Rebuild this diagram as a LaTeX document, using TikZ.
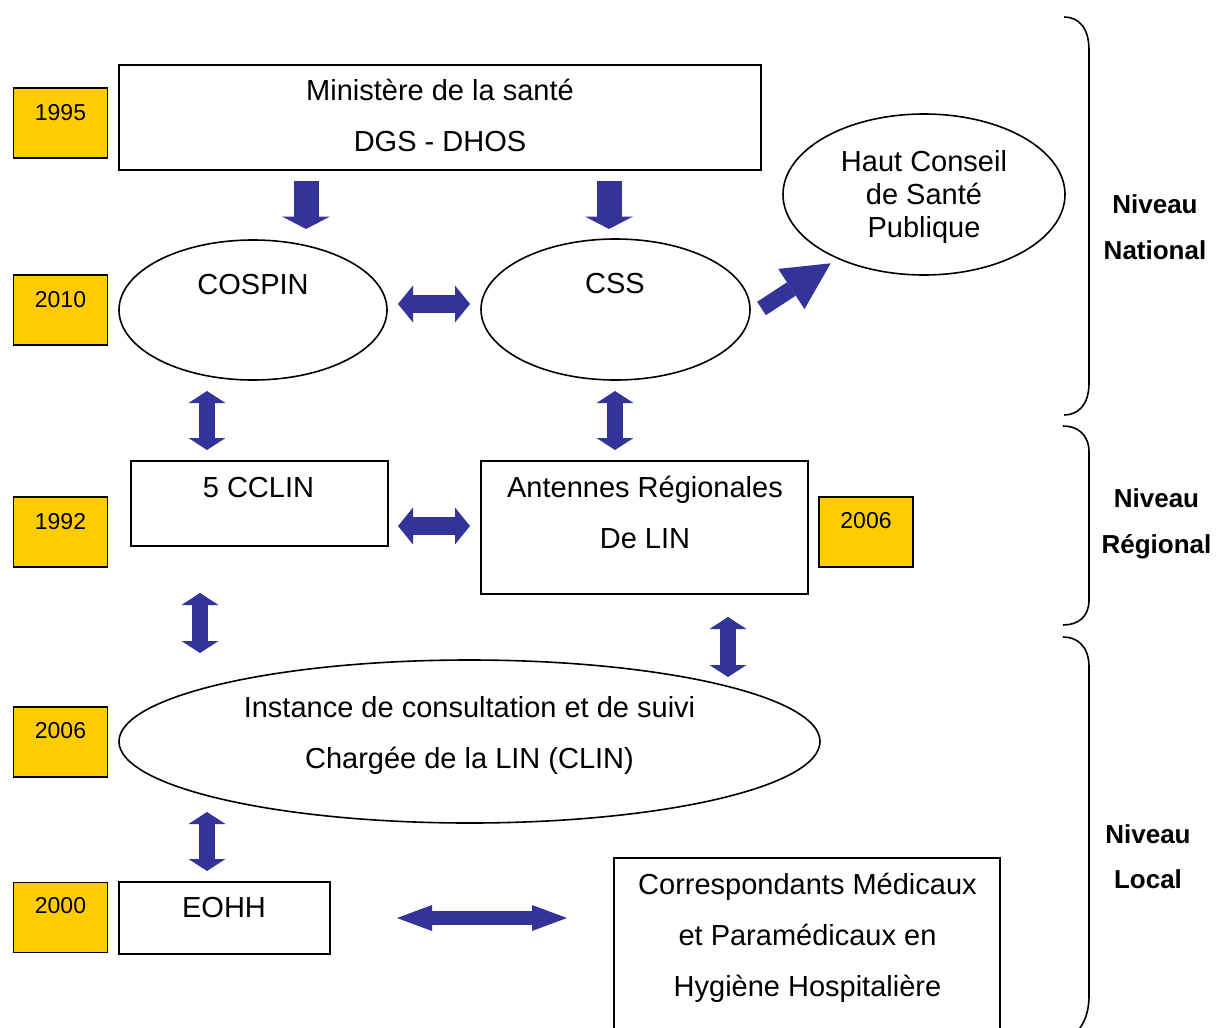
\documentclass[tikz,border=0pt]{standalone}
\usepackage{fontspec}
\setmainfont{Liberation Sans}
\usetikzlibrary{shapes.geometric,arrows.meta}
\definecolor{arrowblue}{RGB}{51,51,153}
\definecolor{gold}{RGB}{255,204,0}
\tikzset{
  yr/.style={draw, line width=1.6pt, fill=gold, rectangle, minimum width=94pt, minimum height=70pt, inner sep=0pt},
  bx/.style={draw, line width=1.6pt, rectangle, inner sep=0pt},
  el/.style={draw, line width=1.6pt, ellipse, inner sep=0pt},
  txt/.style={anchor=base, inner sep=0pt, font=\fontsize{29}{34}\selectfont},
  ytxt/.style={anchor=base, inner sep=0pt, font=\fontsize{23}{28}\selectfont},
  lvl/.style={anchor=base, inner sep=0pt, font=\bfseries\fontsize{26}{31}\selectfont},
  brace/.style={draw, line width=1.6pt},
  dblv/.style={draw=arrowblue, line width=16pt, arrows={Triangle[length=12pt 0 0,width=37pt 0 0,line width=0pt 0 0]-Triangle[length=12pt 0 0,width=37pt 0 0,line width=0pt 0 0]}},
  dblh/.style={draw=arrowblue, line width=18pt, arrows={Triangle[length=15pt 0 0,width=37pt 0 0,line width=0pt 0 0]-Triangle[length=15pt 0 0,width=37pt 0 0,line width=0pt 0 0]}},
  dbllong/.style={draw=arrowblue, line width=14pt, arrows={Triangle[length=35pt 0 0,width=26pt 0 0,line width=0pt 0 0]-Triangle[length=35pt 0 0,width=26pt 0 0,line width=0pt 0 0]}},
  downarr/.style={draw=arrowblue, line width=25pt, arrows={-Triangle[length=12.5pt 0 0,width=48pt 0 0,line width=0pt 0 0]}},
  diagarr/.style={draw=arrowblue, line width=16pt, arrows={-Triangle[length=47pt 0 0,width=48pt 0 0,line width=0pt 0 0]}}
}
\begin{document}
\begin{tikzpicture}[x=1pt,y=-1pt]
\useasboundingbox (0,0) rectangle (1216,1028);
\clip (0,0) rectangle (1216,1028);

% year boxes
\node[yr] (y1995) at (60.5,123) {};
\node[yr] (y2010) at (60.5,310) {};
\node[yr] (y1992) at (60.5,532) {};
\node[yr] (y2006a) at (60.5,742) {};
\node[yr] (y2000) at (60.5,917.5) {};
\node[yr] (y2006b) at (866,532) {};
\node[ytxt] (t1995) at (60.5,120) {1995};
\node[ytxt] (t2010) at (60.5,307) {2010};
\node[ytxt] (t1992) at (60.5,529) {1992};
\node[ytxt] (t2006a) at (60.5,738) {2006};
\node[ytxt] (t2000) at (60.5,913) {2000};
\node[ytxt] (t2006b) at (866,528) {2006};

% main shapes
\node[bx, minimum width=642pt, minimum height=105pt] (min) at (440,117.5) {};
\node[txt] (min1) at (440,100) {Ministère de la santé};
\node[txt] (min2) at (440,151) {DGS - DHOS};

\node[el, minimum width=268pt, minimum height=140pt] (cospin) at (253,310) {};
\node[txt] (cospint) at (253,294) {COSPIN};
\node[el, minimum width=269pt, minimum height=141pt] (css) at (615.5,309.5) {};
\node[txt] (csst) at (615,293) {CSS};
\node[el, minimum width=282pt, minimum height=161pt] (hcsp) at (924,194.5) {};
\node[txt] (hcsp1) at (924,171) {Haut Conseil};
\node[txt] (hcsp2) at (924,204) {de Santé};
\node[txt] (hcsp3) at (924,237) {Publique};

\node[bx, minimum width=257pt, minimum height=85pt] (cclin) at (259.5,503.5) {};
\node[txt] (cclint) at (258.5,497) {5 CCLIN};
\node[bx, minimum width=327pt, minimum height=133pt] (arlin) at (644.5,527.5) {};
\node[txt] (arlin1) at (645,497) {Antennes Régionales};
\node[txt] (arlin2) at (645,548) {De LIN};

\node[el, minimum width=701pt, minimum height=163pt] (clin) at (469.5,741.5) {};
\node[txt] (clin1) at (469.5,717) {Instance de consultation et de suivi};
\node[txt] (clin2) at (469.5,768) {Chargée de la LIN (CLIN)};

\node[bx, minimum width=211pt, minimum height=72pt] (eohh) at (224.5,918) {};
\node[txt] (eohht) at (224,917) {EOHH};
\node[bx, minimum width=386pt, minimum height=182pt] (corr) at (807,949) {};
\node[txt] (corr1) at (807.5,894) {Correspondants Médicaux};
\node[txt] (corr2) at (807.5,945) {et Paramédicaux en};
\node[txt] (corr3) at (807.5,996) {Hygiène Hospitalière};

% level labels
\node[lvl] (nat1) at (1155,213) {Niveau};
\node[lvl] (nat2) at (1155,259) {National};
\node[lvl] (reg1) at (1156.5,507) {Niveau};
\node[lvl] (reg2) at (1156.5,553) {Régional};
\node[lvl] (loc1) at (1148,843) {Niveau};
\node[lvl] (loc2) at (1148,888) {Local};

% braces
\draw[brace] (1064,17) .. controls (1078,17) and (1089,27) .. (1089,50) -- (1089,383) .. controls (1089,405) and (1078,415) .. (1064,415);
\draw[brace] (1063,426) .. controls (1078,426) and (1089,435) .. (1089,452) -- (1089,600) .. controls (1089,617) and (1078,625) .. (1063,625);
\draw[brace] (1063,637) .. controls (1078,637) and (1089,647) .. (1089,667) -- (1089,995) .. controls (1089,1012) and (1085,1022) .. (1077,1032);

% arrow end points
\coordinate (d1a) at (306,181); \coordinate (d1b) at (306,229);
\coordinate (d2a) at (609,181); \coordinate (d2b) at (609,229);
\coordinate (dga) at (761.5,308.5); \coordinate (dgb) at (830.7,263.3);
\coordinate (h1a) at (398,304); \coordinate (h1b) at (470,304);
\coordinate (h2a) at (398,526); \coordinate (h2b) at (470,526);
\coordinate (h3a) at (397,918); \coordinate (h3b) at (567,918);
\coordinate (v1a) at (207,391); \coordinate (v1b) at (207,450);
\coordinate (v2a) at (615,391); \coordinate (v2b) at (615,450);
\coordinate (v3a) at (200,593); \coordinate (v3b) at (200,653);
\coordinate (v4a) at (728,617); \coordinate (v4b) at (728,677);
\coordinate (v5a) at (207,812); \coordinate (v5b) at (207,871);

\draw[downarr] (d1a) -- (d1b);
\draw[downarr] (d2a) -- (d2b);
\draw[diagarr] (dga) -- (dgb);
\draw[dblh] (h1a) -- (h1b);
\draw[dblh] (h2a) -- (h2b);
\draw[dbllong] (h3a) -- (h3b);
\draw[dblv] (v1a) -- (v1b);
\draw[dblv] (v2a) -- (v2b);
\draw[dblv] (v3a) -- (v3b);
\draw[dblv] (v4a) -- (v4b);
\draw[dblv] (v5a) -- (v5b);
\end{tikzpicture}
\end{document}
